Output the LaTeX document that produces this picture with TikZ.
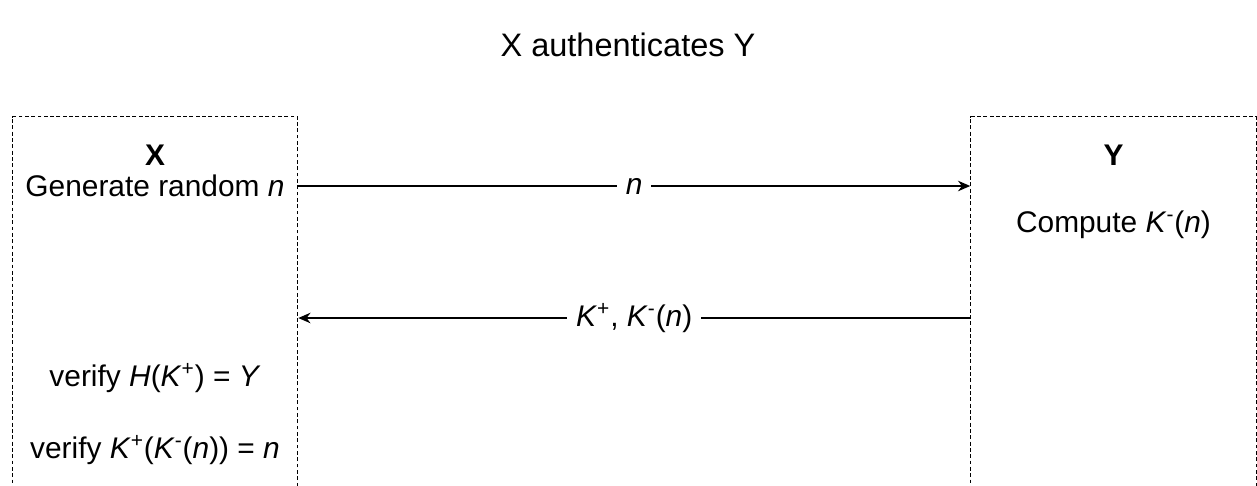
\documentclass[tikz,border=0pt]{standalone}
\usepackage{fontspec}
\setmainfont{Liberation Sans}
\usetikzlibrary{positioning,arrows.meta}

\begin{document}
\begin{tikzpicture}[x=0.02cm, y=-0.02cm, every node/.style={font=\fontsize{17}{20}\selectfont}]
  \tikzset{
    party/.style={draw, dash pattern=on 2.2pt off 1.4pt, line width=0.6pt, minimum width=5.71cm, minimum height=8.9cm, inner sep=0pt, anchor=north},
    msg/.style={-{Stealth[length=7pt, width=6pt]}, line width=0.8pt},
    msglabel/.style={fill=white, inner xsep=5pt, inner ysep=1pt}
  }
  \useasboundingbox (0,0) rectangle (1257,485);
  \clip (0,0) rectangle (1257,485);

  % Title
  \node[font=\fontsize{18.5}{22}\selectfont] (title) at (628,45) {X authenticates Y};

  % Left party: X
  \node[party] (boxX) at (155,116) {};
  \node (X) at (155,155) {\textbf{X}};
  \node (gen) at (155,186) {Generate random \textit{n}};
  \node (verH) at (155,378) {verify \textit{H}(\textit{K}\textsuperscript{+}) = \textit{Y}};
  \node (verK) at (155,450) {verify \textit{K}\textsuperscript{+}(\textit{K}\textsuperscript{-}(\textit{n})) = \textit{n}};

  % Right party: Y
  \node[party] (boxY) at (1113.5,116) {};
  \node (Y) at (1113.5,155) {\textbf{Y}};
  \node (comp) at (1113.5,225) {Compute \textit{K}\textsuperscript{-}(\textit{n})};

  % Messages
  \coordinate (reply) at (628,318);
  \draw[msg] (boxX.east |- gen) -- (boxY.west |- gen) node[msglabel, midway] (nlab) {\textit{n}};
  \draw[msg] (boxY.west |- reply) -- (boxX.east |- reply) node[msglabel, midway] (klab) {\textit{K}\textsuperscript{+}, \textit{K}\textsuperscript{-}(\textit{n})};
\end{tikzpicture}
\end{document}
